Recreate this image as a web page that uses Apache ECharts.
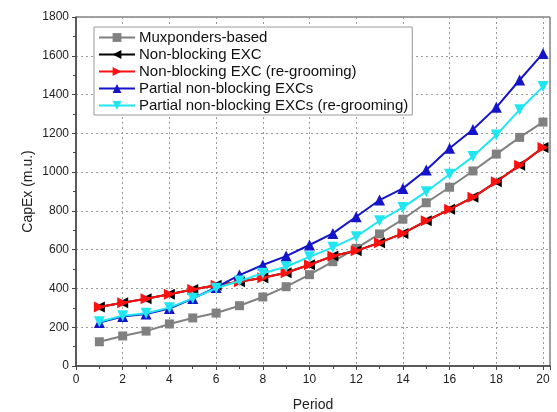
<!DOCTYPE html>
<html>
<head>
<meta charset="utf-8">
<script src="https://cdn.jsdelivr.net/npm/echarts@6/dist/echarts.min.js"></script>
</head>
<body style="margin:0;background:#fff;">
<div id="capexChart" style="width:557px;height:412px;"></div>
<script>
// periods 1..20
var periods = [1, 2, 3, 4, 5, 6, 7, 8, 9, 10, 11, 12, 13, 14, 15, 16, 17, 18, 19, 20];

var seriesNames = [
  "Muxponders-based",
  "Non-blocking EXC",
  "Non-blocking EXC (re-grooming)",
  "Partial non-blocking EXCs",
  "Partial non-blocking EXCs (re-grooming)"
];

var muxponders = [125, 155, 180, 217, 248, 273, 311, 356, 409, 471, 538, 607, 681, 757, 842, 922, 1006, 1093, 1179, 1258];
var nonBlocking = [304, 326, 347, 370, 395, 416, 435, 455, 481, 522, 567, 594, 636, 684, 749, 808, 870, 950, 1036, 1127];
var nonBlockingRegroom = [304, 326, 347, 370, 395, 416, 435, 455, 481, 522, 567, 594, 636, 684, 749, 808, 870, 950, 1036, 1127];
var partial = [224, 255, 268, 296, 348, 405, 469, 521, 567, 624, 684, 770, 856, 916, 1011, 1123, 1220, 1334, 1475, 1612];
var partialRegroom = [228, 259, 272, 301, 349, 401, 438, 478, 512, 563, 612, 667, 749, 818, 899, 989, 1080, 1191, 1322, 1441];

function pairs(vals) {
  return periods.map(function (p, i) { return [p, vals[i]]; });
}

var myChart = echarts.init(document.getElementById("capexChart"));
var font = "Liberation Sans, Arial, sans-serif";

function lineSeries(name, vals, color, symbol, rotate, size, z) {
  return {
    name: name,
    type: "line",
    data: pairs(vals),
    symbol: symbol,
    symbolSize: size,
    symbolRotate: rotate,
    z: z,
    lineStyle: { color: color, width: 2 },
    itemStyle: { color: color },
    emphasis: { disabled: true },
    animation: false
  };
}

myChart.setOption({
  animation: false,
  grid: {
    left: 76, top: 17, right: 7, bottom: 46,
    outerBoundsMode: "none",
    containLabel: false,
    show: true, borderColor: "#444", borderWidth: 1
  },
  legend: {
    orient: "vertical",
    left: 94, top: 27,
    padding: [3, 4, 2, 4],
    itemGap: 2,
    itemWidth: 36, itemHeight: 11,
    borderColor: "#999", borderWidth: 1,
    backgroundColor: "#fff",
    textStyle: { fontFamily: font, fontSize: 15, lineHeight: 15, color: "#111", padding: [0, 0, 0, -1] },
    data: seriesNames
  },
  xAxis: {
    type: "value",
    min: 0, max: 20.3, interval: 2,
    name: "Period",
    nameLocation: "middle",
    nameGap: 32,
    nameMoveOverlap: false,
    nameTextStyle: { fontFamily: font, fontSize: 14, color: "#222" },
    axisLine: { lineStyle: { color: "#444", width: 1.5 } },
    axisTick: { inside: false, length: 4, lineStyle: { color: "#444" } },
    minorTick: { show: true, splitNumber: 2, length: 3, lineStyle: { color: "#444" } },
    axisLabel: { fontFamily: font, fontSize: 12, color: "#222", showMaxLabel: false, margin: 8 },
    splitLine: { show: true, lineStyle: { color: "#999", type: [2, 3] } }
  },
  yAxis: {
    type: "value",
    min: 0, max: 1800, interval: 200,
    name: "CapEx (m.u.)",
    nameLocation: "middle",
    nameGap: 41,
    nameMoveOverlap: false,
    nameTextStyle: { fontFamily: font, fontSize: 14, color: "#222" },
    axisLine: { show: true, lineStyle: { color: "#444", width: 1.5 } },
    axisTick: { show: true, inside: false, length: 4, lineStyle: { color: "#444" } },
    minorTick: { show: true, splitNumber: 2, length: 3, lineStyle: { color: "#444" } },
    axisLabel: { fontFamily: font, fontSize: 12, color: "#222", margin: 7, formatter: function (v) { return String(v); } },
    splitLine: { show: true, lineStyle: { color: "#999", type: [2, 3] } }
  },
  series: [
    lineSeries(seriesNames[0], muxponders, "#808080", "rect", 0, 9, 2),
    lineSeries(seriesNames[1], nonBlocking, "#000000", "triangle", 90, 11, 3),
    lineSeries(seriesNames[2], nonBlockingRegroom, "#ff1010", "triangle", -90, 11, 4),
    lineSeries(seriesNames[3], partial, "#1414c8", "triangle", 0, 11, 5),
    lineSeries(seriesNames[4], partialRegroom, "#20e6f2", "triangle", 180, 11, 6)
  ]
});
</script>
</body>
</html>
